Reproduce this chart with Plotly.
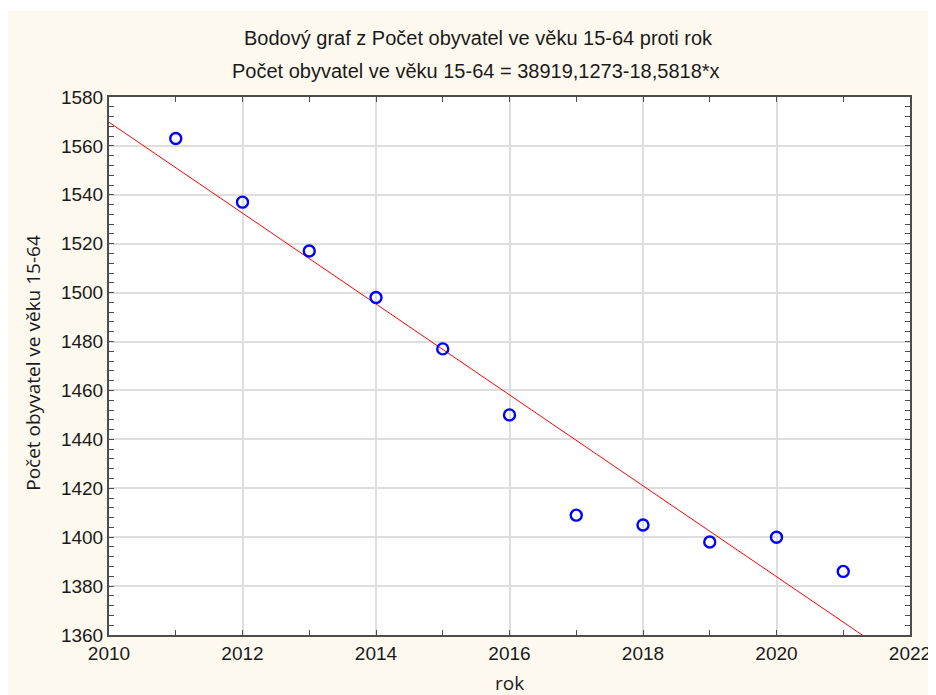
import numpy as np
import plotly.graph_objects as go

# data
rok = [2011, 2012, 2013, 2014, 2015, 2016, 2017, 2018, 2019, 2020, 2021]
pocet = [1563, 1537, 1517, 1498, 1477, 1450, 1409, 1405, 1398, 1400, 1386]

title_1 = "Bodový graf z Počet obyvatel ve věku 15-64 proti rok"
x_label = "rok"
y_label = "Počet obyvatel ve věku 15-64"

x_range = [2010, 2022]
y_range = [1360, 1580]

# least squares fit, same as the equation in the subtitle
slope, intercept = np.polyfit(rok, pocet, 1)
title_2 = "Počet obyvatel ve věku 15-64 = %s-%s*x" % (
    f"{intercept:.4f}".replace(".", ","), f"{-slope:.4f}".replace(".", ","))

fit_x = np.array(x_range, dtype=float)
fit_y = intercept + slope * fit_x

CREAM = "#FEF9EF"
AXIS = "#4d4d4d"
GRID = "#dedede"

fig = go.Figure()
fig.add_trace(go.Scatter(
    x=fit_x, y=fit_y, mode="lines",
    line=dict(color="#ff0000", width=1),
    hoverinfo="skip"
))
fig.add_trace(go.Scatter(
    x=rok, y=pocet, mode="markers",
    marker=dict(symbol="circle-open", size=11, color="#0000ff",
                line=dict(width=2.4, color="#0000ff"))
))

axis_common = dict(
    showline=True, linecolor=AXIS, linewidth=2, mirror="allticks",
    ticks="inside", ticklen=5, tickcolor=AXIS, tickwidth=1,
    showgrid=True, gridcolor=GRID, gridwidth=1.5, zeroline=False,
    tickfont=dict(family="Liberation Sans, Arial", size=19, color="#1a1a1a"),
)

fig.update_xaxes(range=x_range, dtick=2, tick0=2010,
                 minor=dict(dtick=1, ticks="inside", ticklen=5, tickcolor=AXIS, showgrid=False),
                 **axis_common)
fig.update_yaxes(range=y_range, dtick=20, tick0=1360,
                 minor=dict(dtick=4, ticks="inside", ticklen=5, tickcolor=AXIS, showgrid=False),
                 **axis_common)

# thin white strip along the top edge
fig.add_shape(type="rect", xref="paper", yref="paper",
              x0=-0.2, x1=1.1, y0=1.1599, y1=1.2,
              fillcolor="white", line=dict(width=0))

title_font = dict(family="Liberation Sans, Arial", size=20, color="#1a1a1a")
label_font = dict(family="Open Sans, Noto Sans", size=19, color="#1a1a1a")

fig.add_annotation(text=title_1, xref="paper", yref="paper", x=0.461, y=1.1097,
                   yanchor="middle", showarrow=False, font=title_font)
fig.add_annotation(text=title_2, xref="paper", yref="paper", x=0.458, y=1.0483,
                   yanchor="middle", showarrow=False, font=title_font)
fig.add_annotation(text=y_label, xref="paper", yref="paper", x=-0.0949, y=0.506,
                   xanchor="center", yanchor="middle",
                   textangle=-90, showarrow=False, font=label_font)
fig.add_annotation(text=x_label, xref="paper", yref="paper", x=0.5, y=-0.0895,
                   yanchor="middle", showarrow=False, font=label_font)

# page body adds an 8px offset, so margins are shifted to keep the plot in place
fig.update_layout(
    width=936, height=695,
    margin=dict(l=101, r=34, t=89, b=68),
    paper_bgcolor=CREAM, plot_bgcolor="white",
    showlegend=False,
)

fig.write_html("out.html")
